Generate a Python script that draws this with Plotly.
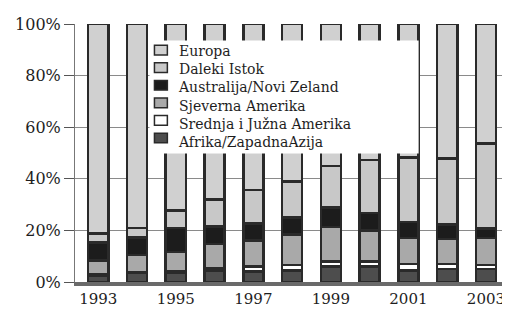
import plotly.graph_objects as go

years = [1993, 1994, 1995, 1996, 1997, 1998, 1999, 2000, 2001, 2002, 2003]
tick_years = [1993, 1995, 1997, 1999, 2001, 2003]

afrika = [2.6, 3.4, 3.7, 4.5, 4.0, 4.5, 6.0, 6.0, 4.5, 5.0, 5.0]
srednja = [0.5, 0.4, 0.5, 1.0, 2.0, 2.0, 2.0, 2.0, 2.5, 2.0, 1.5]
sjeverna = [5.2, 6.7, 7.5, 9.3, 10.0, 12.0, 13.4, 12.0, 10.0, 9.7, 10.5]
australija = [7.1, 6.7, 9.3, 6.7, 6.7, 6.5, 7.5, 6.7, 6.3, 5.6, 3.7]
daleki = [3.4, 3.7, 6.7, 10.4, 13.0, 14.0, 16.0, 20.5, 25.0, 25.5, 33.0]
europa = [81.2, 79.1, 72.3, 68.1, 64.3, 61.0, 55.1, 52.8, 51.7, 52.2, 46.3]

series = [
    ("Afrika/ZapadnaAzija", afrika, "#4d4d4d"),
    ("Srednja i Južna Amerika", srednja, "#ffffff"),
    ("Sjeverna Amerika", sjeverna, "#a9a9a9"),
    ("Australija/Novi Zeland", australija, "#1c1c1c"),
    ("Daleki Istok", daleki, "#c8c8c8"),
    ("Europa", europa, "#d0d0d0"),
]

FONT = "DejaVu Serif"
W, H = 510, 311
OFF = 8  # page body margin of the browser
# plot area wanted on screen: x 72..510, y 15..282
ML, MT = 72 - OFF, 15 - OFF
MR = OFF
MB = H - (282 - OFF)
PW, PH = W - ML - MR, H - MT - MB


def px(sx):
    return (sx - OFF - ML) / PW


def py(sy):
    return (H - MB - (sy - OFF)) / PH


fig = go.Figure()
for name, vals, col in series:
    fig.add_trace(go.Bar(
        x=years, y=vals, name=name, width=0.52,
        marker=dict(color=col, line=dict(color="#2a2a2a", width=2.5)),
    ))

# compact legend box like the reference
shapes = [dict(type="rect", xref="paper", yref="paper", layer="above",
               x0=px(147), x1=px(418), y0=py(149), y1=py(32),
               fillcolor="white", line=dict(width=0))]
row_y = [42, 60.2, 78.4, 96.6, 114.8, 133]
for (name, vals, col), yy in zip(reversed(series), row_y):
    shapes.append(dict(type="rect", xref="paper", yref="paper", layer="above",
                       x0=px(152), x1=px(165), y0=py(yy + 5), y1=py(yy - 5),
                       fillcolor=col, line=dict(color="#2a2a2a", width=1.5)))
legend_text = "<br>".join(name for name, _, _ in reversed(series))
annotations = [dict(xref="paper", yref="paper", x=px(174), y=py(33),
                    xanchor="left", yanchor="top", align="left", showarrow=False,
                    text=legend_text,
                    font=dict(family=FONT, size=14, color="#1e1e1e"))]

fig.update_layout(
    barmode="stack",
    width=W, height=H,
    margin=dict(l=ML, r=MR, t=MT, b=MB),
    paper_bgcolor="white", plot_bgcolor="white",
    font=dict(family=FONT, size=16, color="#222"),
    showlegend=False,
    shapes=shapes, annotations=annotations,
    xaxis=dict(
        range=[1992.4, 2003.62],
        tickvals=tick_years, ticktext=[str(y) for y in tick_years],
        showgrid=False, showline=True, linecolor="#6a6a6a", linewidth=4,
        ticks="", tickfont=dict(family=FONT, size=15, color="#1e1e1e"),
        zeroline=False, ticklabeloverflow="allow",
    ),
    yaxis=dict(
        range=[0, 100], tickvals=[0, 20, 40, 60, 80, 100],
        ticktext=["0%", "20%", "40%", "60%", "80%", "100%"],
        showgrid=True, gridcolor="#8a8a8a", gridwidth=1,
        showline=True, linecolor="#777", linewidth=1,
        ticks="outside", ticklen=10, tickcolor="#555",
        tickfont=dict(family=FONT, size=16, color="#1e1e1e"),
        zeroline=False, ticklabeloverflow="allow",
    ),
)

fig.write_html("out.html")
